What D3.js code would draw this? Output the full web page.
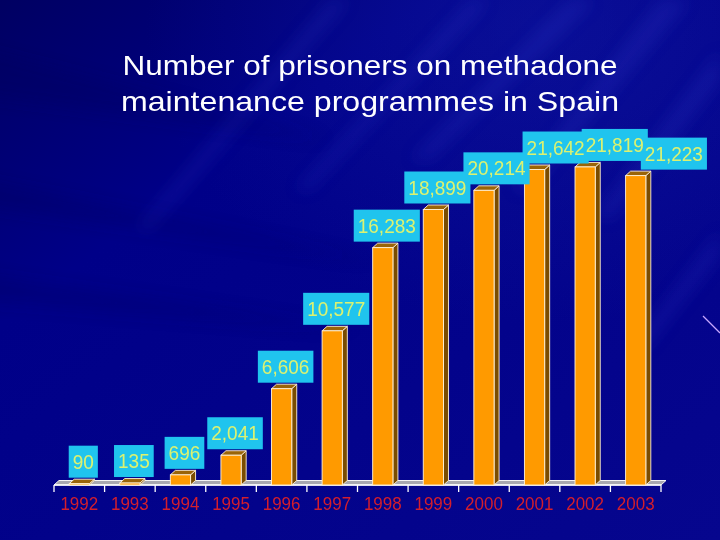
<!DOCTYPE html>
<html>
<head>
<meta charset="utf-8">
<script src="https://cdn.jsdelivr.net/npm/d3@7"></script>
<style>
  html, body { margin: 0; padding: 0; background: #00008a; }
  svg { display: block; }
</style>
</head>
<body>
<svg id="chart" width="720" height="540"></svg>
<script>
// ---- data ----
const years = ["1992","1993","1994","1995","1996","1997","1998","1999","2000","2001","2002","2003"];
const prisoners = [90, 135, 696, 2041, 6606, 10577, 16283, 18899, 20214, 21642, 21819, 21223];
const titleLines = ["Number of prisoners on methadone", "maintenance programmes in Spain"];

// ---- setup ----
const W = 720, H = 540;
const svg = d3.select("#chart");
const defs = svg.append("defs");
const FONT = "'Liberation Sans', Arial, Helvetica, sans-serif";

// background
const bg = defs.append("linearGradient").attr("id", "bg")
  .attr("x1", "0").attr("y1", "0").attr("x2", "1").attr("y2", "1");
bg.append("stop").attr("offset", "0").attr("stop-color", "#000062");
bg.append("stop").attr("offset", "0.3").attr("stop-color", "#000088");
bg.append("stop").attr("offset", "1").attr("stop-color", "#06068e");
svg.append("rect").attr("width", W).attr("height", H).attr("fill", "url(#bg)");

const glow = defs.append("radialGradient").attr("id", "glow")
  .attr("cx", "0.75").attr("cy", "0.05").attr("r", "0.55");
glow.append("stop").attr("offset", "0").attr("stop-color", "#2030b8").attr("stop-opacity", 0.3);
glow.append("stop").attr("offset", "1").attr("stop-color", "#2030b8").attr("stop-opacity", 0);
svg.append("rect").attr("width", W).attr("height", H).attr("fill", "url(#glow)");

const blur = defs.append("filter").attr("id", "blur").attr("x", "-50%").attr("y", "-50%")
  .attr("width", "200%").attr("height", "200%");
blur.append("feGaussianBlur").attr("stdDeviation", 8);

const streaks = [
  [[330, 0], [350, 0], [150, 230], [135, 230]],
  [[470, 0], [490, 0], [310, 190], [295, 190]],
  [[570, 0], [595, 0], [430, 160], [410, 160]],
  [[660, 0], [690, 0], [530, 190], [512, 190]],
  [[720, 50], [720, 80], [610, 220], [595, 215]],
  [[720, 230], [720, 255], [645, 350], [632, 345]]
];
svg.append("g").attr("filter", "url(#blur)")
  .selectAll("path").data(streaks).join("path")
  .attr("d", d => d3.line()(d) + "Z")
  .attr("fill", "#5060ff").attr("opacity", 0.12);

const darkBands = [
  [[-20, 180], [-20, 205], [380, 262]],
  [[-20, 275], [-20, 300], [360, 330]],
  [[-20, 50], [-20, 95], [330, 140]]
];
svg.append("g").attr("filter", "url(#blur)")
  .selectAll("path").data(darkBands).join("path")
  .attr("d", d => d3.line()(d) + "Z")
  .attr("fill", "#000050").attr("opacity", 0.22);

svg.append("line").attr("x1", 703).attr("y1", 316).attr("x2", 720).attr("y2", 333)
  .attr("stroke", "#c8a8ff").attr("stroke-width", 1.2);

// ---- title ----
const title = svg.append("g");
title.selectAll("text").data(titleLines).join("text")
  .attr("x", 370).attr("y", (d, i) => 75 + i * 36)
  .attr("text-anchor", "middle")
  .attr("font-family", FONT).attr("font-size", 28.5)
  .attr("fill", "#ffffff")
  .attr("textLength", (d, i) => i === 0 ? 495 : 498)
  .attr("lengthAdjust", "spacingAndGlyphs")
  .text(d => d);

// ---- scales ----
const x0 = 54, x1 = 661, baseY = 485;
const dx = 5, dy = -4.5;
const xCat = d3.scaleBand().domain(years).range([x0, x1]).padding(0);
const x = d3.scaleBand().domain(years).range([x0, x1]).paddingInner(0.6).paddingOuter(0.3);
const y = d3.scaleLinear().domain([0, 25000]).range([baseY, baseY - 25000 / 68.6]);

// ---- floor ----
svg.append("path")
  .attr("d", `M${x0},${baseY} L${x1},${baseY} L${x1 + dx},${baseY + dy} L${x0 + dx},${baseY + dy} Z`)
  .attr("fill", "#a8a8b0").attr("stroke", "#f4f4f4").attr("stroke-width", 1);

// ticks
const tickPos = years.map(d => xCat(d)).concat([x1]);
svg.append("g").selectAll("line").data(tickPos).join("line")
  .attr("x1", d => d).attr("x2", d => d)
  .attr("y1", baseY).attr("y2", baseY + 7)
  .attr("stroke", "#ffffff").attr("stroke-width", 1.3);
svg.append("line").attr("x1", x0).attr("x2", x1).attr("y1", baseY).attr("y2", baseY)
  .attr("stroke", "#ffffff").attr("stroke-width", 1.3);

// year labels
svg.append("g").selectAll("text").data(years).join("text")
  .attr("transform", d => `translate(${xCat(d) + xCat.bandwidth() / 2},510) scale(1,1.12)`)
  .attr("text-anchor", "middle")
  .attr("font-family", FONT).attr("font-size", 17)
  .attr("fill", "#d41e2c")
  .text(d => d);

// ---- bars ----
const data = years.map((yr, i) => ({ year: yr, value: prisoners[i] }));
const bw = x.bandwidth();
const bars = svg.append("g").selectAll("g").data(data).join("g");
// side
bars.append("path")
  .attr("d", d => {
    const xr = x(d.year) + bw, yt = y(d.value);
    return `M${xr},${baseY} L${xr + dx},${baseY + dy} L${xr + dx},${yt + dy} L${xr},${yt} Z`;
  })
  .attr("fill", "#7a4c00").attr("stroke", "#fff2d8").attr("stroke-width", 0.9)
  .attr("stroke-linejoin", "round");
// top
bars.append("path")
  .attr("d", d => {
    const xl = x(d.year), yt = y(d.value);
    return `M${xl},${yt} L${xl + bw},${yt} L${xl + bw + dx},${yt + dy} L${xl + dx},${yt + dy} Z`;
  })
  .attr("fill", "#9a6408").attr("stroke", "#fff2d8").attr("stroke-width", 0.9)
  .attr("stroke-linejoin", "round");
// front
bars.append("rect")
  .attr("x", d => x(d.year))
  .attr("y", d => y(d.value))
  .attr("width", bw)
  .attr("height", d => baseY - y(d.value))
  .attr("fill", "#ff9a00").attr("stroke", "#fff2d8").attr("stroke-width", 0.9);

// ---- value labels ----
const fmt = d3.format(",");
const boxG = svg.append("g");
const txtG = svg.append("g");
const boxH = 32, pad = 4, gap = 6, allowOverlap = 7;
let prev = null;
data.forEach(d => {
  const rect = boxG.append("rect").attr("fill", "#20c4ee");
  const t = txtG.append("text")
    .attr("font-family", FONT).attr("font-size", 19)
    .attr("fill", "#dcf270")
    .attr("text-anchor", "middle")
    .text(fmt(d.value));
  const tw = t.node().getComputedTextLength();
  const w = tw + 2 * pad;
  const cx = x(d.year) + bw / 2 + 4;
  let bx0 = cx - w / 2;
  const by1 = y(d.value) - gap;
  const by0 = by1 - boxH;
  if (prev && bx0 < prev.x1 && by0 < prev.y1 && by1 > prev.y0) {
    bx0 = Math.max(bx0, prev.x1 - allowOverlap);
  }
  rect.attr("x", bx0).attr("y", by0).attr("width", w).attr("height", boxH);
  t.attr("transform", `translate(${bx0 + w / 2},${by0 + boxH / 2 + 7}) scale(1,1.08)`);
  prev = { x0: bx0, x1: bx0 + w, y0: by0, y1: by1 };
});
</script>
</body>
</html>
